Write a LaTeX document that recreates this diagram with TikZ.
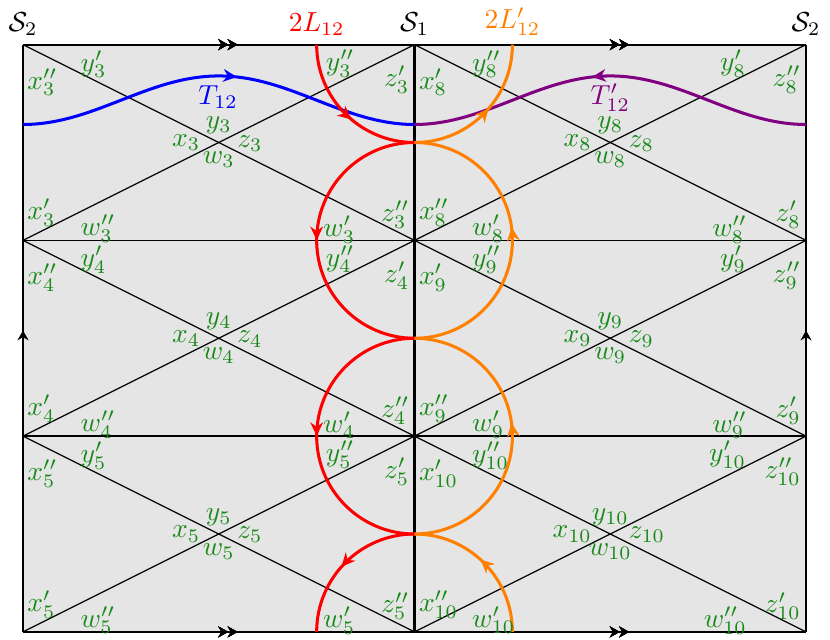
\documentclass[tikz,border=0pt]{standalone}
\usetikzlibrary{arrows.meta,decorations.markings}
\definecolor{labgreen}{RGB}{25,138,25}
\definecolor{lorange}{RGB}{255,128,0}
\definecolor{lpurple}{RGB}{128,0,128}
\tikzset{
  lab/.style={text=labgreen, inner sep=0pt},
  toplab/.style={above, inner sep=3pt},
  border/.style={line width=0.8pt, black},
  rowline/.style={line width=0.6pt, black},
  diag/.style={line width=0.45pt, black},
  curve/.style={line width=1.1pt},
  midarrow/.style={postaction={decorate},
    decoration={markings, mark=at position #1 with {\arrow{Stealth[length=5pt,width=4.6pt]}}}},
  edgearrow/.style={postaction={decorate},
    decoration={markings, mark=at position #1 with {\arrow{Stealth[length=3.6pt,width=4pt]}}}},
}
\begin{document}
\begin{tikzpicture}
\useasboundingbox (-0.294,-0.10) rectangle (10.306,8.07);
% corners
\coordinate (BL) at (0,0);
\coordinate (BR) at (10,0);
\coordinate (TL) at (0,7.5);
\coordinate (TR) at (10,7.5);
\coordinate (BM) at (5,0);
\coordinate (TM) at (5,7.5);
\coordinate (L1) at (0,2.5);
\coordinate (L2) at (0,5);
\coordinate (R1) at (10,2.5);
\coordinate (R2) at (10,5);
\coordinate (TA) at (0,6.48);
\coordinate (TB) at (5,6.48);
\coordinate (TC) at (10,6.48);
\fill[gray!20] (BL) rectangle (TR);
% diagonals
\foreach \xo in {0,5}{
  \foreach \yo in {0,2.5,5}{
    \draw[diag] (\xo,\yo+2.5) -- (\xo+5,\yo);
    \draw[diag] (\xo,\yo) -- (\xo+5,\yo+2.5);
  }
}
\draw[rowline] (L1) -- (R1);
\draw[rowline] (L2) -- (R2);
\draw[border] (BM) -- (TM);
% outer edges with identification arrows
\draw[border, edgearrow=2.62cm, edgearrow=2.74cm, edgearrow=7.62cm, edgearrow=7.74cm] (TL) -- (TR);
\draw[border, edgearrow=2.62cm, edgearrow=2.74cm, edgearrow=7.62cm, edgearrow=7.74cm] (BL) -- (BR);
\draw[border, edgearrow=3.85cm] (BL) -- (TL);
\draw[border, edgearrow=3.85cm] (BR) -- (TR);
% top labels
\node[toplab] (S2a) at (TL) {$\mathcal{S}_2$};
\node[toplab] (S1) at (TM) {$\mathcal{S}_1$};
\node[toplab] (S2b) at (TR) {$\mathcal{S}_2$};
\node[toplab, text=red] (L12) at (3.75,7.5) {$2L_{12}$};
\node[toplab, text=lorange] (L12p) at (6.25,7.5) {$2L'_{12}$};
% T curves
\draw[curve, blue, midarrow=0.545] (TA) .. controls (0.91,6.48) and (1.59,7.1) .. (2.5,7.1)
  .. controls (3.41,7.1) and (4.09,6.48) .. (TB);
\draw[curve, lpurple, midarrow=0.545] (TC) .. controls (9.09,6.48) and (8.41,7.1) .. (7.5,7.1)
  .. controls (6.59,7.1) and (5.91,6.48) .. (TB);
\node[text=blue, inner sep=0pt] (T12) at (2.49,6.83) {$T_{12}$};
\node[text=lpurple, inner sep=0pt] (T12p) at (7.5,6.82) {$T'_{12}$};
% L curves
\draw[curve, red, midarrow=0.555] (3.75,7.5) arc[start angle=180, end angle=270, radius=1.25];
\draw[curve, red, midarrow=0.5] (5,6.25) arc[start angle=90, end angle=270, radius=1.25];
\draw[curve, red, midarrow=0.5] (5,3.75) arc[start angle=90, end angle=270, radius=1.25];
\draw[curve, red, midarrow=0.537] (5,1.25) arc[start angle=90, end angle=180, radius=1.25];
\draw[curve, lorange, midarrow=0.547] (5,6.25) arc[start angle=270, end angle=360, radius=1.25];
\draw[curve, lorange, midarrow=0.543] (5,3.75) arc[start angle=-90, end angle=90, radius=1.25];
\draw[curve, lorange, midarrow=0.543] (5,1.25) arc[start angle=-90, end angle=90, radius=1.25];
\draw[curve, lorange, midarrow=0.53] (6.25,0) arc[start angle=0, end angle=90, radius=1.25];
% green labels
\foreach \xo/\yo/\n/\pa/\pb in {0/5/3/{\prime\prime}/{\prime}, 0/2.5/4/{\prime\prime}/{\prime}, 0/0/5/{\prime\prime}/{\prime},
  5/5/8/{\prime}/{\prime\prime}, 5/2.5/9/{\prime}/{\prime\prime}, 5/0/10/{\prime}/{\prime\prime}}{
  \node[lab, anchor=west] (xa\n) at (\xo+0.05,\yo+2.02) {$x^{\pa}_{\n}$};
  \node[lab, anchor=west] (yb\n) at (\xo+0.73,\yo+2.25) {$y^{\pb}_{\n}$};
  \node[lab, anchor=east] (ya\n) at (\xo+4.24,\yo+2.26) {$y^{\pa}_{\n}$};
  \node[lab, anchor=east] (zb\n) at (\xo+4.94,\yo+2.05) {$z^{\pb}_{\n}$};
  \node[lab, anchor=west] (xb\n) at (\xo+0.05,\yo+0.35) {$x^{\pb}_{\n}$};
  \node[lab, anchor=west] (wa\n) at (\xo+0.73,\yo+0.15) {$w^{\pa}_{\n}$};
  \node[lab, anchor=east] (wb\n) at (\xo+4.25,\yo+0.14) {$w^{\pb}_{\n}$};
  \node[lab, anchor=east] (za\n) at (\xo+4.94,\yo+0.33) {$z^{\pa}_{\n}$};
  \node[lab] (yc\n) at (\xo+2.5,\yo+1.47) {$y_{\n}$};
  \node[lab] (wc\n) at (\xo+2.5,\yo+1.03) {$w_{\n}$};
  \node[lab, anchor=east] (xc\n) at (\xo+2.27,\yo+1.25) {$x_{\n}$};
  \node[lab, anchor=west] (zc\n) at (\xo+2.73,\yo+1.24) {$z_{\n}$};
}
\end{tikzpicture}
\end{document}
